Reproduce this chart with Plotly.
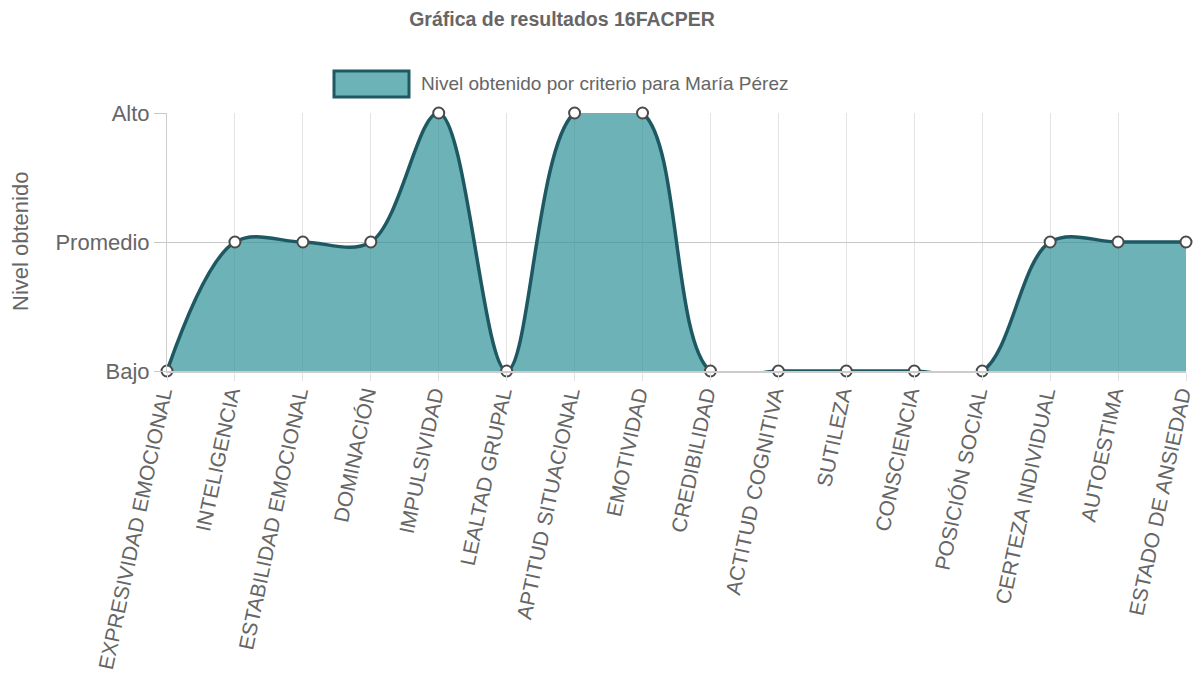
import plotly.graph_objects as go

categories = ["EXPRESIVIDAD EMOCIONAL", "INTELIGENCIA", "ESTABILIDAD EMOCIONAL", "DOMINACIÓN",
              "IMPULSIVIDAD", "LEALTAD GRUPAL", "APTITUD SITUACIONAL", "EMOTIVIDAD",
              "CREDIBILIDAD", "ACTITUD COGNITIVA", "SUTILEZA", "CONSCIENCIA",
              "POSICIÓN SOCIAL", "CERTEZA INDIVIDUAL", "AUTOESTIMA", "ESTADO DE ANSIEDAD"]
levels = [0, 1, 1, 1, 2, 0, 2, 2, 0, 0, 0, 0, 0, 1, 1, 1]
level_labels = ["Bajo", "Promedio", "Alto"]
series_name = "Nivel obtenido por criterio para María Pérez"
title_text = "Gráfica de resultados 16FACPER"
y_title = "Nivel obtenido"

FONT = "Liberation Sans, Arial, sans-serif"
TXT = "#666666"
FILL = "rgba(45,146,152,0.7)"
LEG_FILL = "rgb(108,179,183)"
LINE = "rgb(30,88,98)"

OFF = 8  # page body margin
W, H = 1203 - 2 * OFF, 691 - 2 * OFF
# plot area in page pixels: x 167..1186, y 113..371
L, T = 167 - OFF, 113 - OFF
R = W - (1186 - OFF)
B = H - (371 - OFF)
pw, ph = W - L - R, H - T - B

def px(x):
    return (x - OFF - L) / pw

def py(y):
    return (H - B - (y - OFF)) / ph

xs = list(range(len(categories)))

fig = go.Figure()
fig.add_trace(go.Scatter(
    x=xs, y=levels, mode="lines+markers", name=series_name,
    line=dict(shape="spline", smoothing=1.0, color=LINE, width=3.5),
    fill="tozeroy", fillcolor=FILL,
    marker=dict(size=11, color="white", line=dict(color="#4a4a4a", width=2)),
    cliponaxis=False, showlegend=False,
))

fig.update_layout(
    width=W, height=H,
    margin=dict(l=L, r=R, t=T, b=B, autoexpand=False),
    paper_bgcolor="white", plot_bgcolor="white",
    font=dict(family=FONT, color=TXT),
    title=dict(text="<b>" + title_text + "</b>", x=(562 - OFF) / W, xanchor="center",
               y=1 - (19 - OFF) / H, yanchor="middle", yref="container",
               font=dict(size=19.5, color=TXT, family=FONT)),
    xaxis=dict(
        range=[0, len(categories) - 1], tickmode="array", tickvals=xs, ticktext=categories,
        tickangle=-78, tickfont=dict(size=21, color=TXT, family=FONT),
        ticklabeloverflow="allow", ticklabelstandoff=-8, ticklabelshift=-5,
        showgrid=True, gridcolor="#e3e3e3", gridwidth=1,
        ticks="outside", ticklen=8, tickcolor="#e3e3e3",
        showline=True, linecolor="#cccccc", linewidth=2,
        zeroline=False, fixedrange=True, automargin=False,
    ),
    yaxis=dict(
        range=[0, 2], tickmode="array", tickvals=[0, 1, 2], ticktext=level_labels,
        tickfont=dict(size=22, color=TXT, family=FONT),
        showgrid=True, gridcolor="#c8c8c8", gridwidth=1,
        ticks="outside", ticklen=12, tickcolor="#c8c8c8",
        showline=True, linecolor="#cccccc", linewidth=1,
        zeroline=False, fixedrange=True, automargin=False,
    ),
    showlegend=False,
)

# legend-like box and label
fig.add_shape(type="rect", xref="paper", yref="paper",
              x0=px(334), x1=px(409), y0=py(97), y1=py(71),
              fillcolor=LEG_FILL, line=dict(color=LINE, width=3))
fig.add_annotation(xref="paper", yref="paper", x=px(419), y=py(83), xanchor="left", yanchor="middle",
                   text=series_name, showarrow=False, font=dict(size=19, color=TXT, family=FONT))
# y-axis title
fig.add_annotation(xref="paper", yref="paper", x=px(20), y=py(242), xanchor="center", yanchor="middle",
                   text=y_title, textangle=-90, showarrow=False, font=dict(size=22, color=TXT, family=FONT))

fig.write_html("out.html")
